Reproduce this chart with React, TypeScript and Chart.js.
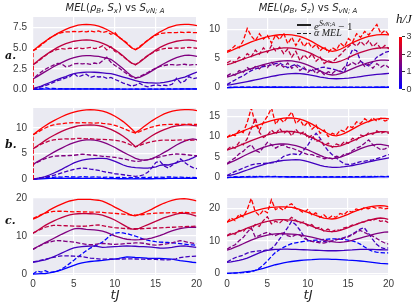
import React, { useEffect, useRef } from "react";
import { Chart, registerables } from "chart.js";
Chart.register(...registerables);

// ---------- shared axes / categories ----------
const T = [0,0.5,1,1.5,2,2.5,3,3.5,4,4.5,5,5.5,6,6.5,7,7.5,8,8.5,9,9.5,10,10.5,11,11.5,12,12.5,13,13.5,14,14.5,15,15.5,16,16.5,17,17.5,18,18.5,19,19.5,20];
const H_VALUES = [0, 0.75, 1.5, 2.25, 3];
const X_TICKS = [0, 5, 10, 15, 20];
const COLORBAR_TICKS = [0, 1, 2, 3];
const COLORBAR_RANGE = [0, 3];
const DASHED_START_VALUE = 0;
const LEGEND_LABELS = ["solid", "dashed"];

// ---------- row a, left: MEL(rho_B, S_x) ----------
const AL_S0 = [0.0,0.01,0.02,0.02,0.03,0.03,0.03,0.04,0.04,0.04,0.04,0.04,0.04,0.04,0.04,0.04,0.04,0.03,0.03,0.03,0.03,0.03,0.02,0.02,0.02,0.02,0.02,0.02,0.02,0.02,0.02,0.03,0.03,0.03,0.03,0.03,0.04,0.04,0.04,0.04,0.04];
const AL_D0 = [0.0,0.15,0.05,0.2,0.08,0.12,0.05,0.08,0.04,0.06,0.05,0.06,0.04,0.06,0.05,0.06,0.04,0.05,0.04,0.05,0.04,0.05,0.03,0.04,0.03,0.04,0.03,0.04,0.03,0.04,0.03,0.04,0.04,0.05,0.04,0.05,0.04,0.05,0.04,0.05,0.04];
const AL_S1 = [0.1,0.25,0.4,0.6,0.8,1.0,1.2,1.4,1.55,1.75,1.9,2.0,2.05,2.1,2.1,2.08,2.05,2.0,1.95,1.9,1.8,1.65,1.5,1.35,1.2,1.05,0.95,0.85,0.8,0.78,0.76,0.78,0.85,0.95,1.05,1.2,1.35,1.5,1.7,1.9,2.1];
const AL_D1 = [0.0,0.15,0.3,0.45,0.65,0.85,1.05,1.2,1.4,1.55,1.95,1.5,1.7,1.85,1.45,1.6,1.5,1.55,1.35,1.45,1.2,1.0,0.75,0.6,0.4,0.5,0.75,0.45,0.3,0.45,0.55,0.45,0.5,0.45,0.65,1.35,0.8,1.0,1.55,1.3,1.4];
const AL_S2 = [1.25,1.55,1.85,2.15,2.45,2.75,3.0,3.25,3.5,3.7,3.85,3.97,4.07,4.1,4.1,4.05,4.0,3.9,3.8,3.65,3.3,2.9,2.5,2.05,1.65,1.4,1.45,1.7,1.95,2.25,2.55,2.85,3.15,3.4,3.65,3.85,4.0,4.12,4.15,4.1,4.0];
const AL_D2 = [1.25,1.7,2.1,2.45,2.7,2.95,3.15,3.1,2.75,2.85,3.1,3.15,3.1,3.15,3.05,3.2,3.1,3.5,3.9,3.3,2.9,2.6,2.2,1.85,1.55,1.35,1.55,1.8,2.05,2.35,2.6,2.8,2.9,3.0,3.0,2.95,3.0,3.05,2.95,3.0,3.0];
const AL_S3 = [3.0,3.4,3.8,4.15,4.5,4.8,5.1,5.35,5.55,5.7,5.85,5.93,5.98,6.0,5.98,5.9,5.78,5.6,5.38,5.1,4.8,4.45,4.05,3.6,3.2,3.0,3.3,3.7,4.1,4.45,4.8,5.1,5.35,5.55,5.72,5.85,5.93,5.98,6.0,5.95,5.87];
const AL_D3 = [3.0,3.3,3.7,4.1,4.45,4.7,4.85,4.95,4.9,5.0,4.95,5.05,4.95,5.0,5.1,4.95,5.05,5.3,4.8,5.2,4.6,4.4,4.0,3.6,3.2,3.0,3.35,3.75,4.1,4.4,4.65,4.85,4.95,5.0,5.0,5.05,5.0,5.05,5.1,5.05,5.0];
const AL_S4 = [4.7,5.1,5.5,5.85,6.2,6.5,6.8,7.05,7.3,7.5,7.65,7.8,7.87,7.9,7.88,7.8,7.68,7.5,7.28,7.0,6.7,6.35,5.95,5.5,5.05,4.8,5.1,5.55,5.95,6.35,6.7,7.0,7.25,7.5,7.65,7.8,7.88,7.9,7.9,7.85,7.75];
const AL_D4 = [4.7,4.95,5.4,5.8,6.2,6.5,6.75,6.9,7.0,7.0,7.05,7.0,7.05,7.0,7.1,7.0,7.1,6.9,7.05,6.7,6.9,6.3,6.0,5.6,5.1,4.85,5.2,5.6,6.0,6.3,6.6,6.8,6.85,6.9,6.9,6.9,6.95,6.9,6.95,6.9,6.9];

// ---------- row a, right: MEL(rho_B, S_z) ----------
const AR_S0 = [0.0,0.01,0.02,0.03,0.03,0.04,0.04,0.05,0.05,0.05,0.05,0.05,0.05,0.05,0.05,0.05,0.05,0.05,0.04,0.04,0.04,0.04,0.04,0.03,0.03,0.03,0.03,0.03,0.03,0.03,0.03,0.03,0.04,0.04,0.04,0.04,0.04,0.05,0.05,0.05,0.05];
const AR_D0 = [0.0,0.05,0.08,0.06,0.09,0.07,0.1,0.08,0.1,0.08,0.09,0.08,0.1,0.08,0.09,0.07,0.08,0.07,0.08,0.06,0.07,0.06,0.07,0.05,0.06,0.05,0.06,0.05,0.06,0.05,0.06,0.06,0.07,0.06,0.07,0.06,0.08,0.07,0.08,0.07,0.08];
const AR_S1 = [0.4,0.5,0.62,0.75,0.88,1.02,1.16,1.3,1.45,1.6,1.75,1.9,2.02,2.15,2.25,2.33,2.38,2.4,2.38,2.32,2.22,2.1,1.95,1.8,1.68,1.58,1.52,1.5,1.52,1.56,1.62,1.7,1.78,1.88,1.98,2.08,2.16,2.24,2.3,2.36,2.42];
const AR_D1 = [0.5,0.9,1.3,1.7,2.0,2.5,2.9,3.2,3.4,3.6,3.7,3.9,4.1,4.2,3.8,3.4,3.7,4.0,3.6,3.2,3.0,2.9,3.1,3.4,3.5,3.3,3.2,3.0,2.8,2.5,5.0,6.5,6.3,4.5,4.0,3.7,4.4,5.2,5.6,6.0,6.2];
const AR_S2 = [1.8,2.0,2.25,2.5,2.75,3.0,3.25,3.5,3.7,3.9,4.1,4.25,4.4,4.5,4.58,4.6,4.55,4.45,4.3,4.1,3.85,3.55,3.2,2.85,2.5,2.25,2.15,2.2,2.4,2.65,2.95,3.25,3.55,3.8,4.05,4.25,4.45,4.6,4.68,4.7,4.65];
const AR_D2 = [2.0,2.4,2.1,2.9,2.6,3.4,3.0,3.6,3.2,3.9,3.4,4.3,3.6,4.0,3.5,4.2,3.3,3.8,2.9,3.5,2.6,3.2,2.4,2.9,2.2,2.7,2.4,3.0,2.7,3.5,3.8,4.3,3.9,4.5,3.6,4.0,3.3,4.1,3.5,3.9,3.4];
const AR_S3 = [3.9,4.1,4.35,4.6,4.85,5.1,5.35,5.6,5.85,6.05,6.25,6.45,6.6,6.7,6.78,6.8,6.75,6.65,6.5,6.3,6.05,5.75,5.4,5.05,4.7,4.4,4.25,4.3,4.5,4.8,5.1,5.45,5.75,6.0,6.25,6.45,6.6,6.72,6.78,6.8,6.78];
const AR_D3 = [4.2,4.6,4.3,5.2,4.8,5.8,5.3,6.4,5.7,6.8,6.0,7.2,6.3,6.9,5.8,6.6,5.2,6.2,4.6,5.6,4.9,5.8,4.5,5.2,4.1,4.6,4.3,5.0,5.6,6.4,7.0,7.6,7.1,7.9,7.2,8.0,7.0,7.6,6.6,7.2,6.6];
const AR_S4 = [6.0,6.3,6.6,6.9,7.2,7.5,7.8,8.05,8.3,8.5,8.7,8.85,8.95,9.03,9.06,9.05,9.0,8.9,8.75,8.5,8.2,7.85,7.45,7.05,6.65,6.35,6.2,6.3,6.55,6.9,7.3,7.7,8.0,8.3,8.55,8.75,8.9,9.0,9.05,9.05,9.0];
const AR_D4 = [6.2,6.5,7.2,6.8,8.0,10.1,8.8,8.0,9.2,8.3,8.9,7.6,9.0,8.2,9.3,7.5,8.6,7.2,8.3,7.0,7.8,6.8,7.4,6.3,7.0,6.0,6.8,6.4,7.6,7.0,8.4,7.8,9.2,8.6,9.6,9.0,9.9,10.8,9.2,9.8,9.0];

// ---------- row b, left ----------
const BL_S0 = [0.0,0.05,0.1,0.15,0.2,0.22,0.25,0.22,0.2,0.22,0.25,0.22,0.2,0.22,0.2,0.18,0.2,0.18,0.15,0.18,0.15,0.12,0.15,0.12,0.1,0.12,0.1,0.12,0.15,0.12,0.15,0.18,0.15,0.18,0.2,0.18,0.2,0.22,0.2,0.22,0.2];
const BL_D0 = [0.0,0.2,0.35,0.3,0.45,0.4,0.5,0.45,0.55,0.45,0.5,0.45,0.55,0.5,0.45,0.5,0.45,0.4,0.45,0.4,0.35,0.4,0.35,0.3,0.35,0.3,0.35,0.4,0.35,0.45,0.4,0.45,0.4,0.5,0.45,0.4,0.45,0.4,0.35,0.4,0.35];
const BL_S1 = [0.1,0.2,0.35,0.55,0.85,1.2,1.55,1.95,2.4,2.8,3.2,3.5,3.75,3.9,4.0,4.05,4.1,4.1,4.05,3.8,3.5,3.15,2.8,2.55,2.4,2.3,2.25,2.2,2.2,2.3,2.45,2.75,2.85,2.8,3.0,3.2,3.55,3.6,3.85,4.2,4.6];
const BL_D1 = [0.0,0.1,0.25,0.45,0.6,0.8,1.0,1.25,1.5,1.75,1.95,2.1,2.2,2.15,2.0,1.9,1.75,1.55,1.4,1.25,1.1,1.0,0.9,0.8,0.7,0.6,0.7,0.9,1.4,2.3,3.3,3.5,2.6,2.2,2.8,3.3,4.0,3.3,2.7,2.3,2.1];
const BL_S2 = [2.9,3.4,3.85,4.3,4.8,5.25,5.7,6.1,6.5,6.85,7.15,7.4,7.6,7.7,7.7,7.65,7.5,7.25,6.95,6.6,6.2,5.75,5.3,4.9,4.5,4.1,3.85,3.75,3.8,4.05,4.4,4.8,5.25,5.7,6.2,6.7,7.1,7.45,7.75,7.9,7.75];
const BL_D2 = [2.9,3.3,3.7,4.05,4.3,4.5,4.55,4.6,4.6,4.65,4.7,4.8,4.9,4.85,4.75,4.7,4.6,4.5,4.45,4.35,4.3,4.15,4.0,3.85,3.65,3.5,3.55,3.7,3.85,4.0,4.2,4.4,4.6,4.75,4.85,4.95,4.9,4.85,4.75,4.65,4.6];
const BL_S3 = [5.95,6.5,7.05,7.6,8.1,8.55,8.95,9.35,9.7,10.0,10.2,10.4,10.5,10.58,10.6,10.55,10.45,10.3,10.05,9.75,9.35,8.9,8.4,7.8,7.1,6.35,6.8,7.4,7.95,8.5,8.95,9.35,9.7,10.0,10.25,10.42,10.52,10.6,10.6,10.52,10.4];
const BL_D3 = [5.95,6.4,6.85,7.2,7.5,7.7,7.8,7.85,7.9,7.85,7.9,8.0,7.95,7.9,7.95,7.85,7.8,7.8,7.75,7.7,7.6,7.5,7.3,7.0,6.65,6.35,6.6,6.9,7.15,7.35,7.5,7.6,7.65,7.65,7.6,7.65,7.7,7.65,7.6,7.65,7.6];
const BL_S4 = [8.7,9.3,9.9,10.45,10.95,11.4,11.8,12.2,12.55,12.85,13.1,13.3,13.45,13.55,13.6,13.55,13.45,13.3,13.05,12.7,12.3,11.8,11.25,10.6,9.85,9.1,9.6,10.25,10.85,11.4,11.9,12.35,12.75,13.05,13.3,13.45,13.55,13.6,13.6,13.55,13.4];
const BL_D4 = [8.7,9.1,9.6,10.0,10.35,10.6,10.75,10.85,10.95,11.0,11.05,11.0,11.05,11.0,11.0,10.95,11.0,10.9,10.85,10.7,10.5,10.25,9.95,9.6,9.25,9.0,9.3,9.65,9.95,10.2,10.4,10.55,10.65,10.7,10.7,10.75,10.7,10.7,10.75,10.7,10.7];

// ---------- row b, right ----------
const BR_S0 = [0.0,0.03,0.06,0.08,0.1,0.12,0.13,0.14,0.15,0.15,0.15,0.15,0.15,0.15,0.15,0.14,0.14,0.14,0.13,0.13,0.12,0.12,0.11,0.11,0.1,0.1,0.1,0.1,0.1,0.11,0.11,0.12,0.12,0.13,0.13,0.14,0.14,0.15,0.15,0.15,0.15];
const BR_D0 = [0.0,0.1,0.2,0.15,0.25,0.2,0.3,0.25,0.3,0.2,0.3,0.25,0.3,0.2,0.25,0.2,0.25,0.2,0.25,0.2,0.2,0.15,0.2,0.15,0.2,0.15,0.2,0.15,0.2,0.2,0.25,0.2,0.25,0.2,0.3,0.25,0.3,0.25,0.3,0.25,0.3];
const BR_S1 = [0.4,0.6,0.85,1.15,1.5,1.85,2.2,2.55,2.85,3.15,3.45,3.7,3.9,4.05,4.2,4.28,4.32,4.35,4.3,4.15,3.9,3.6,3.3,3.0,2.75,2.6,2.5,2.5,2.55,2.65,2.8,2.95,3.15,3.35,3.6,3.85,4.05,4.25,4.45,4.65,4.8];
const BR_D1 = [0.5,1.0,1.5,1.9,2.3,2.7,3.1,3.3,3.4,3.45,3.5,3.6,3.7,4.4,5.2,5.5,5.8,5.7,5.6,6.8,8.0,9.6,10.8,9.6,7.8,6.5,5.6,4.8,4.0,3.3,3.2,3.3,3.6,3.9,4.0,4.2,4.3,4.6,4.9,5.3,5.6];
const BR_S2 = [3.3,3.75,4.2,4.7,5.2,5.7,6.15,6.6,7.0,7.35,7.7,7.95,8.1,8.2,8.2,8.15,8.0,7.8,7.5,7.15,6.75,6.3,5.85,5.4,5.0,4.75,4.65,4.75,5.0,5.35,5.75,6.2,6.65,7.05,7.45,7.75,7.95,8.1,8.1,7.95,7.75];
const BR_D2 = [3.4,4.2,4.8,5.8,6.4,7.4,8.0,6.6,6.2,7.4,8.6,8.0,7.2,7.8,8.0,7.4,7.2,6.8,6.4,6.0,5.6,5.6,5.2,5.0,4.6,4.8,4.6,5.2,5.0,5.8,5.8,6.6,7.2,7.6,8.4,9.2,8.0,7.4,6.8,7.0,7.5];
const BR_S3 = [6.7,7.05,7.4,7.8,8.2,8.6,9.0,9.4,9.75,10.1,10.4,10.7,10.95,11.1,11.25,11.3,11.25,11.1,10.9,10.6,10.2,9.75,9.25,8.75,8.2,7.8,7.55,7.55,7.75,8.1,8.5,8.95,9.4,9.85,10.25,10.6,10.85,11.05,11.2,11.2,11.1];
const BR_D3 = [6.8,7.6,7.2,8.6,8.0,9.5,12.0,14.5,11.0,9.8,10.4,11.6,10.6,12.0,10.8,11.5,10.2,11.8,10.6,11.2,9.6,10.4,8.8,9.2,7.8,8.4,7.4,8.2,7.8,8.8,8.4,9.6,9.2,10.4,10.0,11.0,10.6,11.4,10.8,11.2,10.8];
const BR_S4 = [9.85,10.2,10.6,11.0,11.4,11.8,12.2,12.6,12.95,13.3,13.6,13.9,14.15,14.35,14.5,14.6,14.55,14.45,14.25,13.95,13.55,13.05,12.45,11.85,11.25,10.7,10.3,10.2,10.4,10.8,11.3,11.85,12.4,12.9,13.35,13.75,14.05,14.3,14.45,14.45,14.35];
const BR_D4 = [9.8,10.6,10.2,11.5,11.0,13.5,17.0,13.0,11.5,13.5,15.0,17.0,13.0,14.5,13.5,14.8,16.0,13.2,14.2,12.5,13.6,11.8,12.8,10.8,11.6,10.0,10.8,10.4,11.6,11.2,12.6,12.2,13.6,13.2,14.4,13.6,14.6,13.8,14.5,13.8,14.2];

// ---------- row c, left ----------
const CL_S0 = [0.0,0.05,0.1,0.15,0.3,0.5,0.8,1.1,1.5,1.9,2.3,2.65,2.95,3.15,3.3,3.4,3.5,3.6,3.75,3.85,3.95,4.1,4.3,4.5,4.45,4.35,4.3,4.25,4.15,4.1,4.1,4.1,4.05,4.0,3.9,3.75,3.55,3.4,3.25,3.1,3.0];
const CL_D0 = [0.0,0.8,0.5,0.9,0.4,0.6,0.8,1.3,2.0,2.8,3.6,4.5,5.3,6.1,6.8,7.3,7.8,8.4,9.3,10.2,10.7,10.9,10.8,10.6,10.3,10.0,9.6,9.2,8.9,8.7,8.5,8.4,8.35,8.3,8.2,8.1,8.0,7.85,7.75,7.65,7.55];
const CL_S1 = [3.1,3.3,3.5,3.75,4.1,4.5,5.0,5.5,6.0,6.5,6.85,7.1,7.2,7.3,7.35,7.4,7.2,7.0,7.05,7.15,7.2,7.25,7.35,7.4,7.35,7.3,7.2,7.2,7.15,7.05,6.95,6.85,6.8,6.9,7.0,7.2,7.35,7.4,7.3,7.15,7.0];
const CL_D1 = [3.2,3.4,3.65,3.9,4.15,4.4,4.6,4.75,4.8,4.75,4.7,4.65,4.55,4.4,4.2,4.1,4.0,3.9,3.9,3.95,3.9,3.9,3.95,4.0,4.0,3.95,3.9,3.9,3.85,3.9,3.85,3.8,3.75,3.7,3.8,4.0,4.3,4.5,4.6,4.65,4.7];
const CL_S2 = [6.5,7.1,7.7,8.25,8.8,9.35,9.9,10.45,10.95,11.45,11.85,12.0,11.9,11.75,11.7,11.6,11.5,11.3,10.95,10.5,10.05,9.7,9.35,9.15,9.05,9.0,9.05,9.15,9.25,9.45,9.75,10.1,10.5,10.95,11.35,11.7,11.95,12.15,12.25,12.3,12.3];
const CL_D2 = [6.5,7.1,7.6,8.1,8.4,8.65,8.8,8.75,8.6,8.5,8.4,8.2,8.0,7.8,7.7,7.75,7.95,8.05,8.0,7.85,7.8,7.85,7.95,8.05,8.1,8.2,8.2,8.1,7.9,7.7,7.6,7.7,7.85,8.0,8.2,8.5,8.8,8.6,8.3,8.15,8.0];
const CL_S3 = [10.7,11.4,12.1,12.8,13.4,13.9,14.4,14.85,15.25,15.55,15.75,15.85,15.9,15.9,15.85,15.8,15.7,15.5,15.1,14.7,14.2,13.6,13.0,12.4,11.9,11.75,12.0,12.5,12.95,13.4,13.85,14.3,14.75,15.1,15.45,15.75,15.95,16.0,15.85,15.55,15.2];
const CL_D3 = [10.8,11.3,11.8,12.3,12.6,12.8,12.8,12.75,12.7,12.65,12.6,12.6,12.55,12.6,12.7,12.85,12.9,12.7,12.5,12.35,12.2,12.1,12.0,11.95,11.9,11.9,11.9,11.95,12.0,12.05,12.1,12.15,12.2,12.25,12.3,12.35,12.4,12.45,12.5,12.55,12.6];
const CL_S4 = [14.4,14.9,15.5,16.1,16.8,17.4,17.9,18.4,18.85,19.2,19.45,19.6,19.65,19.65,19.6,19.5,19.4,19.15,18.7,18.2,17.6,17.05,16.5,16.0,15.5,15.3,15.6,16.0,16.5,17.0,17.6,18.1,18.6,19.0,19.35,19.6,19.75,19.8,19.7,19.5,19.25];
const CL_D4 = [14.6,15.1,15.6,16.0,16.3,16.45,16.5,16.5,16.45,16.4,16.35,16.4,16.3,16.35,16.3,16.25,16.3,16.2,16.1,16.0,15.95,15.85,15.75,15.65,15.55,15.5,15.55,15.65,15.8,15.9,16.0,16.05,16.1,16.1,16.15,16.1,16.15,16.2,16.15,16.1,16.1];

// ---------- row c, right ----------
const CR_S0 = [0.0,0.05,0.15,0.25,0.4,0.55,0.7,0.9,1.2,1.55,1.95,2.3,2.65,2.95,3.25,3.45,3.65,3.8,3.95,4.05,4.15,4.2,4.3,4.35,4.35,4.35,4.3,4.3,4.25,4.15,4.05,4.0,3.9,3.8,3.7,3.55,3.4,3.25,3.1,3.0,2.9];
const CR_D0 = [0.0,0.05,0.1,0.15,0.2,0.3,0.5,0.9,1.6,2.6,3.8,5.2,6.4,7.3,8.0,8.6,9.1,9.4,9.6,9.8,10.0,10.1,10.2,10.3,10.4,10.5,10.6,10.6,10.5,10.4,10.2,10.0,9.6,9.0,8.2,7.4,6.8,6.5,6.4,6.3,6.3];
const CR_S1 = [3.4,3.55,3.75,4.0,4.3,4.7,5.2,5.75,6.3,6.75,7.05,7.25,7.35,7.4,7.45,7.45,7.4,7.35,7.3,7.25,7.2,7.15,7.1,7.05,7.0,6.95,6.95,6.95,7.0,7.05,7.15,7.2,7.3,7.35,7.4,7.4,7.35,7.3,7.25,7.2,7.2];
const CR_D1 = [3.5,4.2,4.8,5.2,5.6,6.2,6.6,6.8,6.9,7.0,7.2,7.6,8.8,10.5,12.2,14.0,16.0,15.0,13.4,11.5,10.2,9.8,9.9,9.7,9.8,9.6,9.9,10.3,10.6,11.0,11.4,12.0,12.8,13.6,14.0,12.4,10.6,9.0,8.0,7.6,7.8];
const CR_S2 = [7.1,7.55,8.05,8.55,9.1,9.65,10.2,10.7,11.1,11.45,11.75,12.0,12.15,12.2,12.15,12.1,12.05,12.0,11.85,11.6,11.35,11.1,10.8,10.5,10.2,9.95,9.75,9.6,9.55,9.65,9.85,10.15,10.5,10.85,11.2,11.55,11.9,12.2,12.45,12.65,12.7];
const CR_D2 = [7.4,8.2,8.8,10.0,11.0,12.6,14.0,11.2,11.6,12.2,12.6,12.0,11.6,12.2,12.4,11.6,11.2,11.8,11.8,10.8,10.3,9.8,9.6,9.4,9.3,9.6,10.0,10.4,10.6,10.8,11.2,11.8,12.6,13.2,12.6,12.0,11.5,10.8,10.0,9.4,9.0];
const CR_S3 = [11.5,11.95,12.4,12.9,13.4,13.9,14.4,14.85,15.3,15.65,15.95,16.2,16.4,16.5,16.5,16.45,16.35,16.15,15.85,15.45,15.0,14.5,14.0,13.55,13.15,12.9,12.8,12.9,13.2,13.6,14.05,14.55,15.05,15.5,15.9,16.3,16.6,16.85,17.0,16.9,16.6];
const CR_D3 = [11.6,12.4,12.0,13.2,12.8,14.2,13.6,15.0,14.4,16.2,17.4,15.2,16.0,15.4,16.6,16.0,17.2,16.4,15.4,15.8,14.6,15.0,13.8,14.2,13.0,13.6,12.8,13.4,13.2,14.0,14.2,14.8,15.0,15.6,15.8,16.4,16.2,16.8,16.0,16.2,15.6];
const CR_S4 = [15.7,16.2,16.75,17.3,17.8,18.3,18.75,19.2,19.6,19.9,20.1,20.25,20.35,20.4,20.4,20.35,20.25,20.0,19.65,19.2,18.75,18.25,17.8,17.35,17.0,16.8,16.7,16.85,17.2,17.65,18.15,18.7,19.2,19.65,20.05,20.35,20.6,20.75,20.8,20.7,20.5];
const CR_D4 = [15.7,17.0,16.2,18.2,17.4,19.6,23.0,19.0,17.8,19.4,18.6,22.6,19.6,20.2,19.4,20.8,21.4,20.0,19.4,18.6,19.6,18.0,18.6,17.2,18.0,16.8,17.6,17.2,18.4,18.0,19.2,18.8,19.8,19.4,20.2,19.8,20.4,20.0,20.2,19.8,20.0];

// ---------- y tick labels ----------
const Y_TICKS_AL = [0, 2.5, 5, 7.5];
const Y_TICKS_AR = [0, 5, 10];
const Y_TICKS_BL = [0, 5, 10];
const Y_TICKS_BR = [0, 5, 10, 15];
const Y_TICKS_CL = [0, 10, 20];
const Y_TICKS_CR = [0, 10, 20];

// ---------- styling / layout ----------
const BG = "#EAEAF2";
const TICK_COLOR = "#3a3a3a";
const TICK_FONT = '"Liberation Sans", Arial, sans-serif';
const LW = 1.3;
const DASH = [4.4, 2];
const H_MAX = 3;

function hColor(h: number) {
  const f = h / H_MAX;
  return `rgb(${Math.round(255 * f)},0,${Math.round(255 * (1 - f))})`;
}

const LEFT_COL = { plotLeft: 33, plotW: 164, yAxisW: 33, tickPad: 6 };
const RIGHT_COL = { plotLeft: 227, plotW: 162, yAxisW: 27, tickPad: 7 };
const ROW_A = { plotTop: 13, plotH: 82 };
const ROW_B = { plotTop: 104, plotH: 81 };
const ROW_C = { plotTop: 193, plotH: 82 };

const PANELS = [
  { key: "aL", col: LEFT_COL, row: ROW_A, yMin: -0.08, yMax: 8.8, yTicks: Y_TICKS_AL, dec: 1, zeroStart: true, showX: false,
    solid: [AL_S0, AL_S1, AL_S2, AL_S3, AL_S4], dashed: [AL_D0, AL_D1, AL_D2, AL_D3, AL_D4] },
  { key: "aR", col: RIGHT_COL, row: ROW_A, yMin: -0.25, yMax: 11.9, yTicks: Y_TICKS_AR, dec: 0, zeroStart: false, showX: false,
    solid: [AR_S0, AR_S1, AR_S2, AR_S3, AR_S4], dashed: [AR_D0, AR_D1, AR_D2, AR_D3, AR_D4] },
  { key: "bL", col: LEFT_COL, row: ROW_B, yMin: -0.12, yMax: 13.9, yTicks: Y_TICKS_BL, dec: 0, zeroStart: true, showX: false,
    solid: [BL_S0, BL_S1, BL_S2, BL_S3, BL_S4], dashed: [BL_D0, BL_D1, BL_D2, BL_D3, BL_D4] },
  { key: "bR", col: RIGHT_COL, row: ROW_B, yMin: -0.35, yMax: 16.75, yTicks: Y_TICKS_BR, dec: 0, zeroStart: false, showX: false,
    solid: [BR_S0, BR_S1, BR_S2, BR_S3, BR_S4], dashed: [BR_D0, BR_D1, BR_D2, BR_D3, BR_D4] },
  { key: "cL", col: LEFT_COL, row: ROW_C, yMin: -0.25, yMax: 20.25, yTicks: Y_TICKS_CL, dec: 0, zeroStart: false, showX: true,
    solid: [CL_S0, CL_S1, CL_S2, CL_S3, CL_S4], dashed: [CL_D0, CL_D1, CL_D2, CL_D3, CL_D4] },
  { key: "cR", col: RIGHT_COL, row: ROW_C, yMin: -0.5, yMax: 23.15, yTicks: Y_TICKS_CR, dec: 0, zeroStart: false, showX: true,
    solid: [CR_S0, CR_S1, CR_S2, CR_S3, CR_S4], dashed: [CR_D0, CR_D1, CR_D2, CR_D3, CR_D4] },
];

const bgPlugin = {
  id: "plotBg",
  beforeDraw(chart: any) {
    const a = chart.chartArea;
    if (!a) return;
    const ctx = chart.ctx;
    ctx.save();
    ctx.fillStyle = BG;
    ctx.fillRect(a.left, a.top, a.right - a.left, a.bottom - a.top);
    ctx.restore();
  },
};

function Panel({ p }: { p: any }) {
  const ref = useRef<HTMLCanvasElement>(null);
  const padTop = 8, padRight = 8;
  const xAxisH = p.showX ? 18 : 0;
  const padBottom = p.showX ? 0 : 7;
  const left = p.col.plotLeft - p.col.yAxisW;
  const top = p.row.plotTop - padTop;
  const width = p.col.yAxisW + p.col.plotW + padRight;
  const height = padTop + p.row.plotH + xAxisH + padBottom;

  useEffect(() => {
    const datasets: any[] = [];
    for (let k = H_VALUES.length - 1; k >= 0; k--) {
      const color = hColor(H_VALUES[k]);
      const dPts = T.map((t, i) => ({ x: t, y: p.dashed[k][i] }));
      if (p.zeroStart) dPts.unshift({ x: T[0], y: DASHED_START_VALUE });
      datasets.push({ label: LEGEND_LABELS[1], data: dPts, borderColor: color, borderWidth: LW, borderDash: DASH, pointRadius: 0, fill: false, tension: 0 });
      datasets.push({ label: LEGEND_LABELS[0], data: T.map((t, i) => ({ x: t, y: p.solid[k][i] })), borderColor: color, borderWidth: LW, pointRadius: 0, fill: false, tension: 0 });
    }
    const chart = new Chart(ref.current as HTMLCanvasElement, {
      type: "line",
      data: { datasets },
      plugins: [bgPlugin],
      options: {
        responsive: false,
        animation: false,
        devicePixelRatio: 1,
        layout: { padding: { top: padTop, right: padRight, bottom: padBottom, left: 0 }, autoPadding: false },
        plugins: { legend: { display: false }, tooltip: { enabled: false }, title: { display: false } },
        scales: {
          x: {
            type: "linear", min: 0, max: 20,
            afterBuildTicks: (s: any) => { s.ticks = X_TICKS.map((v) => ({ value: v })); },
            afterFit: (s: any) => { s.height = xAxisH; },
            grid: { color: "#ffffff", lineWidth: 1.2, drawTicks: false },
            border: { display: false },
            ticks: { display: p.showX, padding: 3, maxRotation: 0, autoSkip: false, color: TICK_COLOR, font: { family: TICK_FONT, size: 10 } },
          },
          y: {
            type: "linear", min: p.yMin, max: p.yMax,
            afterBuildTicks: (s: any) => { s.ticks = p.yTicks.map((v: number) => ({ value: v })); },
            afterFit: (s: any) => { s.width = p.col.yAxisW; },
            grid: { color: "#ffffff", lineWidth: 1.2, drawTicks: false },
            border: { display: false },
            ticks: { padding: p.col.tickPad, autoSkip: false, color: TICK_COLOR, font: { family: TICK_FONT, size: 10 },
              callback: (v: any) => Number(v).toFixed(p.dec) },
          },
        },
      } as any,
    });
    return () => chart.destroy();
  }, []);

  return <canvas ref={ref} width={width} height={height} style={{ position: "absolute", left, top, width, height }} />;
}

function ColorBar() {
  const ref = useRef<HTMLCanvasElement>(null);
  const left = 395, top = 30, width = 20, height = 66;
  useEffect(() => {
    const chart = new Chart(ref.current as HTMLCanvasElement, {
      type: "bar",
      data: {
        labels: ["h/J"],
        datasets: [{
          data: [COLORBAR_RANGE],
          borderWidth: 0,
          barPercentage: 1,
          categoryPercentage: 1,
          backgroundColor: (c: any) => {
            const a = c.chart.chartArea;
            if (!a) return hColor(1.5);
            const g = c.chart.ctx.createLinearGradient(0, a.bottom, 0, a.top);
            g.addColorStop(0, hColor(0));
            g.addColorStop(0.5, hColor(1.5));
            g.addColorStop(1, hColor(3));
            return g;
          },
        }],
      },
      options: {
        responsive: false,
        animation: false,
        devicePixelRatio: 1,
        layout: { padding: { left: 4, top: 6, bottom: 6, right: 0 }, autoPadding: false },
        plugins: { legend: { display: false }, tooltip: { enabled: false } },
        scales: {
          x: { display: false },
          y: {
            position: "right", min: COLORBAR_RANGE[0], max: COLORBAR_RANGE[1],
            afterBuildTicks: (s: any) => { s.ticks = COLORBAR_TICKS.map((v) => ({ value: v })); },
            afterFit: (s: any) => { s.width = 13; },
            grid: { drawOnChartArea: false, drawTicks: true, tickLength: 3, color: "#333", lineWidth: 1 },
            border: { display: false },
            ticks: { padding: 1.5, color: TICK_COLOR, font: { family: TICK_FONT, size: 9 } },
          },
        },
      } as any,
    });
    return () => chart.destroy();
  }, []);
  return <canvas ref={ref} width={width} height={height} style={{ position: "absolute", left, top, width, height }} />;
}

const titleStyle: any = {
  position: "absolute", top: 1, textAlign: "center", font: '10px "DejaVu Sans", sans-serif',
  color: "#262626", lineHeight: "14px", whiteSpace: "nowrap",
};
const subStyle: any = { fontSize: "7px", verticalAlign: "-2px", fontStyle: "italic" };
const rowLabelStyle: any = {
  position: "absolute", left: 5, font: 'italic bold 11px "DejaVu Serif", serif', color: "#111", lineHeight: "14px",
};
const xLabelStyle: any = {
  position: "absolute", top: 287, textAlign: "center", font: 'italic 13px "DejaVu Sans", sans-serif', color: "#262626", lineHeight: "16px",
};
const legendTextStyle: any = {
  position: "absolute", left: 314, font: 'italic 11px "Liberation Serif", serif', color: "#222", lineHeight: "14px", whiteSpace: "nowrap",
};

export default function App() {
  return (
    <div style={{ position: "absolute", left: 0, top: 0, width: 415, height: 304, background: "#ffffff", overflow: "hidden" }}>
      {PANELS.map((p) => <Panel key={p.key} p={p} />)}
      <ColorBar />
      <div style={{ ...titleStyle, left: 33, width: 164 }}>
        <i>MEL</i>(<i>ρ</i><span style={subStyle}>B</span>, <i>S</i><span style={subStyle}>x</span>) vs <i>S</i><span style={subStyle}>vN; A</span>
      </div>
      <div style={{ ...titleStyle, left: 227, width: 162 }}>
        <i>MEL</i>(<i>ρ</i><span style={subStyle}>B</span>, <i>S</i><span style={subStyle}>z</span>) vs <i>S</i><span style={subStyle}>vN; A</span>
      </div>
      <div style={{ ...rowLabelStyle, top: 49 }}>a.</div>
      <div style={{ ...rowLabelStyle, top: 138 }}>b.</div>
      <div style={{ ...rowLabelStyle, top: 214 }}>c.</div>
      <div style={{ ...xLabelStyle, left: 33, width: 164 }}>tJ</div>
      <div style={{ ...xLabelStyle, left: 227, width: 162 }}>tJ</div>
      <div style={{ position: "absolute", left: 396, top: 11, font: 'italic 13px "Liberation Serif", serif', color: "#111", lineHeight: "16px" }}>h/J</div>
      {/* legend */}
      <div style={{ position: "absolute", left: 297, top: 24, width: 14, height: 1.5, background: "#222" }} />
      <div style={{ position: "absolute", left: 297, top: 32.5, width: 14, height: 1.5, background: "repeating-linear-gradient(to right, #222 0 4px, transparent 4px 6px)" }} />
      <div style={{ ...legendTextStyle, top: 17 }}>
        e<span style={{ fontSize: "8px", verticalAlign: "4px" }}>S<span style={{ fontSize: "6px" }}>vN;A</span></span><span style={{ fontStyle: "normal" }}> − 1</span>
      </div>
      <div style={{ ...legendTextStyle, top: 26, fontSize: "10px" }}>α MEL</div>
    </div>
  );
}
